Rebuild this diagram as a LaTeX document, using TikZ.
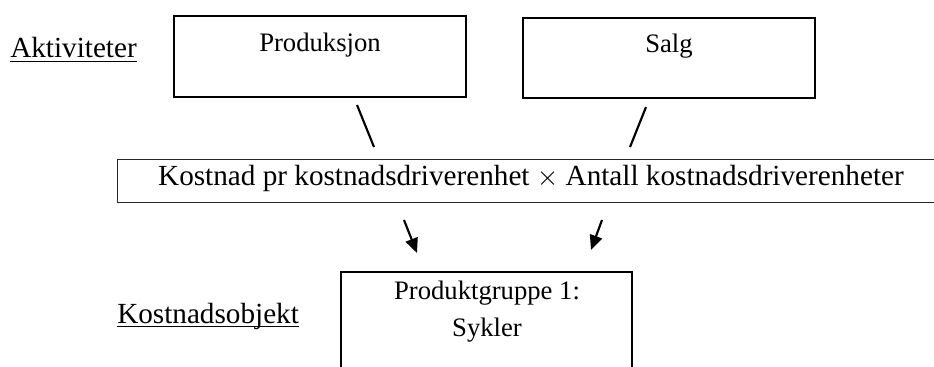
\documentclass[tikz,border=0pt]{standalone}
\usepackage{fontspec}
\setmainfont{Liberation Serif}
\usetikzlibrary{arrows.meta,calc}
\begin{document}
\begin{tikzpicture}[x=0.75pt,y=-0.75pt,
  labeltext/.style={inner sep=0pt,font=\fontsize{21.9pt}{26pt}\selectfont},
  boxtext/.style={inner sep=0pt,font=\fontsize{20pt}{24pt}\selectfont},
  actbox/.style={draw,line width=2pt,minimum width=219pt,inner sep=0pt},
  midbox/.style={draw=black!85,line width=0.9pt,minimum width=620.6pt,minimum height=32.25pt,
    inner sep=0pt,text height=0.9em,text depth=0.217em,font=\fontsize{21.9pt}{26pt}\selectfont},
  objbox/.style={draw,line width=2pt,minimum width=218.25pt,minimum height=96pt,inner sep=0pt},
  conn/.style={line width=1.6pt},
  arr/.style={line width=1.6pt,-{Triangle[length=11pt,width=9.5pt]}},
  uline/.style={line width=1.1pt}]
\clip (0,0) rectangle (934,367);
% labels
\node[labeltext,anchor=base west] (akt) at (10,58) {Aktiviteter};
\draw[uline] ($(akt.base west)+(0,3.5)$) -- ($(akt.base east)+(0,3.5)$);
\node[labeltext,anchor=base west] (kobj) at (117,323) {Kostnadsobjekt};
\draw[uline] ($(kobj.base west)+(0,3.5)$) -- ($(kobj.base east)+(0,3.5)$);
% activity boxes
\node[actbox,minimum height=60.75pt] (prod) at (320,56.5) {};
\node[boxtext,anchor=base] (prodtext) at (320,52) {Produksjon};
\node[actbox,minimum height=60pt] (salg) at (669,58) {};
\node[boxtext,anchor=base] (salgtext) at (669,53) {Salg};
% middle box
\node[midbox] (mid) at (531,181) {Kostnad pr kostnadsdriverenhet $\times$ Antall kostnadsdriverenheter};
% object box
\node[objbox] (obj) at (486.5,336) {};
\node[boxtext,anchor=base] (objtext1) at (487,299) {Produktgruppe 1:};
\node[boxtext,anchor=base] (objtext2) at (487,336) {Sykler};
% connector end points
\coordinate (l1a) at (357,105);
\coordinate (l1b) at (374,147);
\coordinate (l2a) at (646,107);
\coordinate (l2b) at (630,147);
\coordinate (a1a) at (404,220);
\coordinate (a1b) at (417,253);
\coordinate (a2a) at (602,220);
\coordinate (a2b) at (591,250);
\draw[conn] (l1a) -- (l1b);
\draw[conn] (l2a) -- (l2b);
\draw[arr] (a1a) -- (a1b);
\draw[arr] (a2a) -- (a2b);
\end{tikzpicture}
\end{document}
